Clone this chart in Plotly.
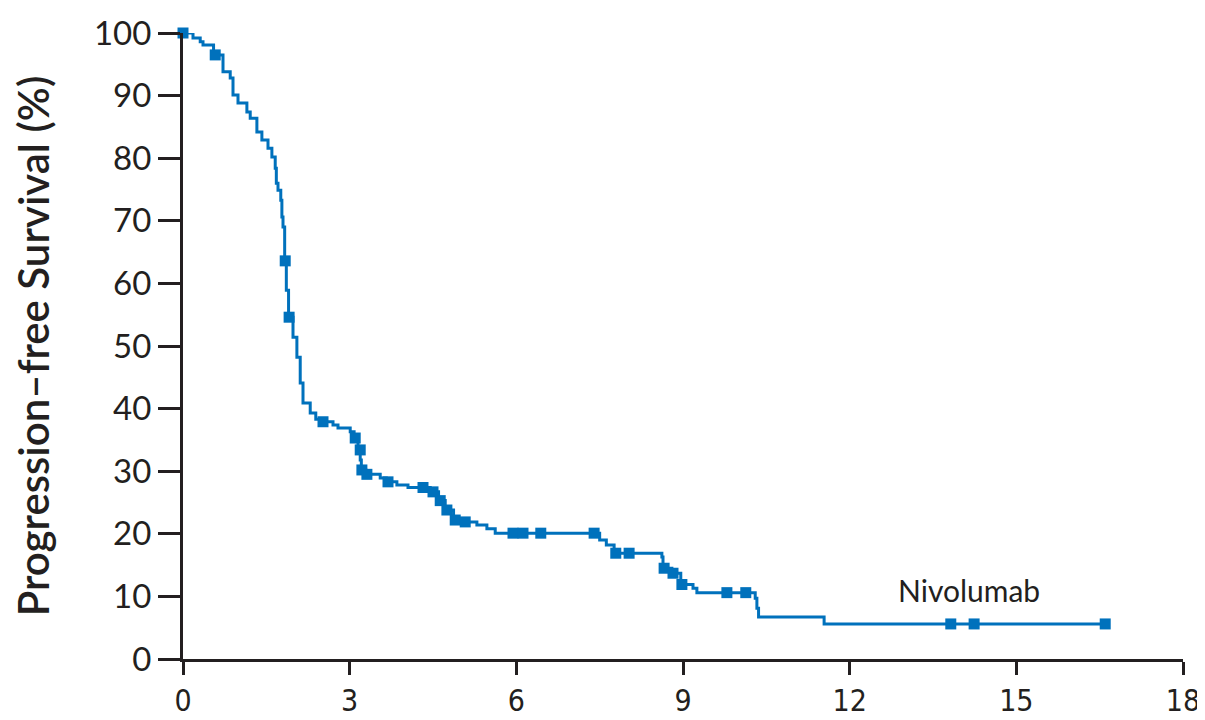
import plotly.graph_objects as go

# Kaplan-Meier step curve (time in months, survival %)
times = [0, 0.18, 0.31, 0.36, 0.55, 0.72, 0.85, 0.90, 0.99, 1.15,
         1.21, 1.33, 1.42, 1.53, 1.60, 1.66, 1.68, 1.71, 1.76, 1.78,
         1.80, 1.83, 1.86, 1.90, 1.98, 2.05, 2.11, 2.16, 2.29, 2.39,
         2.50, 2.70, 2.79, 3.01, 3.08, 3.15, 3.19, 3.21, 3.29, 3.55,
         3.66, 3.85, 4.05, 4.45, 4.60, 4.72, 4.87, 5.02, 5.29, 5.47,
         5.62, 7.50, 7.62, 7.76, 8.62, 8.64, 8.80, 8.96, 9.18, 9.25,
         10.30, 10.33, 10.36, 11.54, 16.6]
surv = [100, 99.2, 98.6, 98.1, 96.5, 93.8, 92.8, 90.1, 88.8, 87.4,
        86.4, 84.2, 82.9, 81.6, 80.2, 78.4, 76.0, 74.9, 73.3, 70.6,
        69.0, 63.6, 58.9, 54.6, 51.4, 48.2, 44.1, 40.9, 39.3, 38.3,
        37.9, 37.4, 36.9, 36.3, 35.3, 33.4, 31.8, 30.2, 29.5, 28.9,
        28.3, 27.8, 27.4, 26.7, 25.3, 23.8, 22.2, 21.9, 21.4, 20.8,
        20.1, 19.0, 18.2, 16.9, 16.3, 14.5, 13.7, 11.9, 11.3, 10.6,
        9.7, 8.1, 6.7, 5.6, 5.6]

# Censored observations
censor_times = [0, 0.58, 1.84, 1.91, 2.52, 3.10, 3.19, 3.22, 3.31, 3.69,
                4.32, 4.50, 4.63, 4.75, 4.90, 5.08, 5.94, 6.12, 6.44, 7.40,
                7.79, 8.03, 8.66, 8.82, 8.98, 9.79, 10.13, 13.82, 14.24, 16.6]
censor_surv = [100, 96.5, 63.6, 54.6, 37.9, 35.3, 33.4, 30.2, 29.5, 28.3,
               27.4, 26.7, 25.3, 23.8, 22.2, 21.9, 20.1, 20.1, 20.1, 20.1,
               16.9, 16.9, 14.5, 13.7, 11.9, 10.6, 10.6, 5.6, 5.6, 5.6]

x_ticks = [0, 3, 6, 9, 12, 15, 18]
y_ticks = [0, 10, 20, 30, 40, 50, 60, 70, 80, 90, 100]

series_name = "Nivolumab"
y_title = "Progression–free Survival (%)"

blue = "#0071BC"
axis_col = "#231F20"

fig = go.Figure()
fig.add_trace(go.Scatter(x=times, y=surv, mode="lines", line_shape="hv",
                         line=dict(color=blue, width=3), cliponaxis=False,
                         showlegend=False, hoverinfo="skip"))
fig.add_trace(go.Scatter(x=censor_times, y=censor_surv, mode="markers",
                         marker=dict(symbol="square", size=11, color=blue),
                         cliponaxis=False, showlegend=False))

fig.add_annotation(x=14.15, y=7.8, text=series_name, showarrow=False,
                   xanchor="center", yanchor="bottom",
                   font=dict(family="Lato, sans-serif", size=30, color="#231F20"))

# page body has an 8px margin, so the figure is sized to fit inside the window
fig.update_layout(
    width=1197, height=712,
    margin=dict(l=175, r=22, t=25, b=61, autoexpand=False),
    plot_bgcolor="white", paper_bgcolor="white",
    xaxis=dict(range=[0, 18], tickvals=x_ticks, ticktext=[str(v) for v in x_ticks],
               automargin=False,
               showline=True, linecolor=axis_col, linewidth=3,
               ticks="outside", ticklen=13, tickwidth=2.5, tickcolor=axis_col,
               showgrid=False, zeroline=False,
               tickfont=dict(family="Liberation Sans Narrow, DejaVu Sans Condensed, Roboto Condensed, sans-serif",
                             size=30, color=axis_col)),
    yaxis=dict(range=[0, 100], tickvals=y_ticks, automargin=False,
               showline=True, linecolor=axis_col, linewidth=3,
               ticks="outside", ticklen=22, tickwidth=2.5, tickcolor=axis_col,
               showgrid=False, zeroline=False,
               tickfont=dict(family="Lato, sans-serif", size=33, color=axis_col),
               title=dict(text=y_title, standoff=36,
                          font=dict(family="Lato, sans-serif", size=42, color=axis_col,
                                    weight=600))),
)

fig.write_html("out.html")
